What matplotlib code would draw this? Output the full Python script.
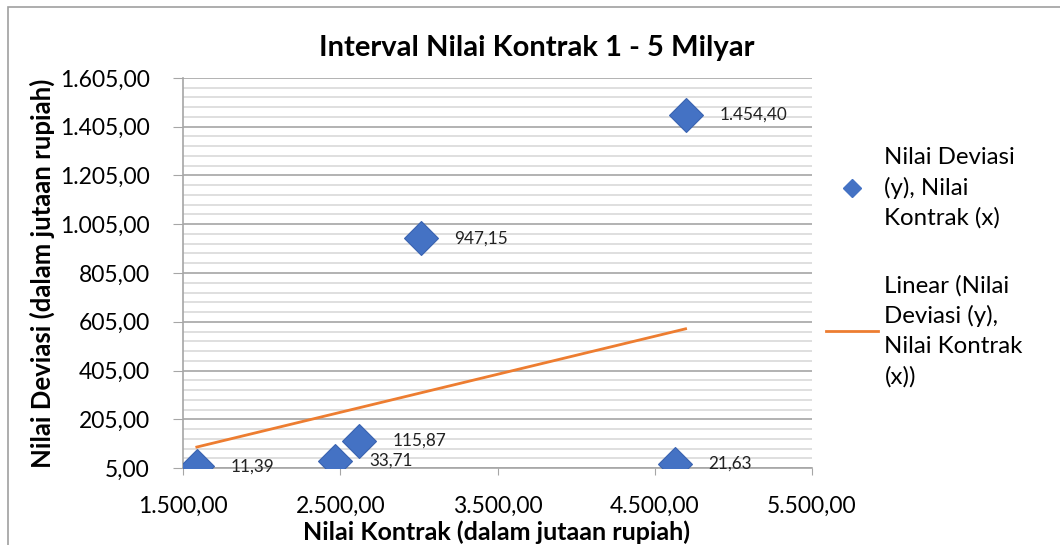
import numpy as np
import matplotlib.pyplot as plt
from matplotlib.lines import Line2D
from matplotlib.patches import Rectangle
from matplotlib.ticker import FixedLocator, FuncFormatter

# data
kontrak = [1588, 2467, 2619, 3011, 4627, 4696]
deviasi = [11.39, 33.71, 115.87, 947.15, 21.63, 1454.40]

# linear trend line as drawn (end points)
trend_x = [1588, 4696]
trend_y = [91, 576]

x_ticks = [1500, 2500, 3500, 4500, 5500]
y_ticks = [5, 205, 405, 605, 805, 1005, 1205, 1405, 1605]

title = 'Interval Nilai Kontrak 1 - 5 Milyar'
xlabel = 'Nilai Kontrak (dalam jutaan rupiah)'
ylabel = 'Nilai Deviasi (dalam jutaan rupiah)'
legend_labels = ['Nilai Deviasi\n(y), Nilai\nKontrak (x)',
                 'Linear (Nilai\nDeviasi (y),\nNilai Kontrak\n(x))']

BLUE = '#4472C4'
ORANGE = '#ED7D31'


def idn(v, pos=None):
    # 1,234.50 -> 1.234,50
    s = '{:,.2f}'.format(v)
    return s.replace(',', '#').replace('.', ',').replace('#', '.')


def main():
    plt.rcParams['font.family'] = ['Lato', 'DejaVu Sans']
    fig = plt.figure(figsize=(10.6, 5.45), dpi=100)
    ax = fig.add_axes([183 / 1060, 77 / 545, 629 / 1060, 390 / 545])

    ax.plot(trend_x, trend_y, color=ORANGE, lw=2, zorder=3)
    ax.plot(kontrak, deviasi, ls='none', marker='D', ms=17,
            mfc=BLUE, mec='#3a63b0', mew=0.8, zorder=4)
    for x, y in zip(kontrak, deviasi):
        ax.annotate(idn(y), (x, y), xytext=(34, 0), textcoords='offset pixels',
                    ha='left', va='center', fontsize=12.3, color='#222222')

    ax.set_xlim(x_ticks[0], x_ticks[-1])
    ax.set_ylim(y_ticks[0], y_ticks[-1])
    ax.xaxis.set_major_locator(FixedLocator(x_ticks))
    ax.yaxis.set_major_locator(FixedLocator(y_ticks))
    # five minor divisions per major step
    ax.yaxis.set_minor_locator(FixedLocator(
        np.linspace(y_ticks[0], y_ticks[-1], (len(y_ticks) - 1) * 5 + 1)))
    ax.xaxis.set_major_formatter(FuncFormatter(idn))
    ax.yaxis.set_major_formatter(FuncFormatter(idn))

    ax.grid(axis='y', which='major', color='#a6a6a6', lw=1.2)
    ax.grid(axis='y', which='minor', color='#d9d9d9', lw=1.2)
    ax.set_axisbelow(True)
    for s in ['top', 'right']:
        ax.spines[s].set_visible(False)
    for s in ['left', 'bottom']:
        ax.spines[s].set_color('#a6a6a6')
        ax.spines[s].set_linewidth(1.2)
    ax.tick_params(axis='y', which='major', length=7, color='#a6a6a6',
                   labelsize=16.5, pad=17)
    ax.tick_params(axis='y', which='minor', length=0)
    ax.tick_params(axis='x', length=5, color='#a6a6a6', labelsize=16.5, pad=15)

    fig.text(537 / 1060, 1 - 48 / 545, title, fontsize=21, fontweight='bold',
             ha='center', va='center')
    ax.set_xlabel(xlabel, fontsize=18, fontweight='bold')
    ax.xaxis.set_label_coords(0.499, -0.135)
    ax.set_ylabel(ylabel, fontsize=18.5, fontweight='bold')
    ax.yaxis.set_label_coords(-0.203, 0.5)

    handles = [Line2D([], [], ls='none', marker='D', ms=9, mfc=BLUE, mec=BLUE),
               Line2D([], [], color=ORANGE, lw=2)]
    leg = fig.legend(handles, legend_labels, loc='upper left',
                     bbox_to_anchor=(804 / 1060, 1 - 125 / 545), frameon=False,
                     fontsize=17.3, handlelength=2.2, handletextpad=0.25,
                     labelspacing=1.9)
    for t in leg.get_texts():
        t.set_linespacing(1.5)

    # outer chart border (only top/left visible in the crop)
    fig.add_artist(Rectangle((8 / 1060, -0.1), 1.2, 1 - 7 / 545 + 0.1,
                             transform=fig.transFigure, fill=False,
                             edgecolor='#a0a0a0', lw=1.2))

    fig.savefig('out.png', dpi=100)


if __name__ == '__main__':
    main()
